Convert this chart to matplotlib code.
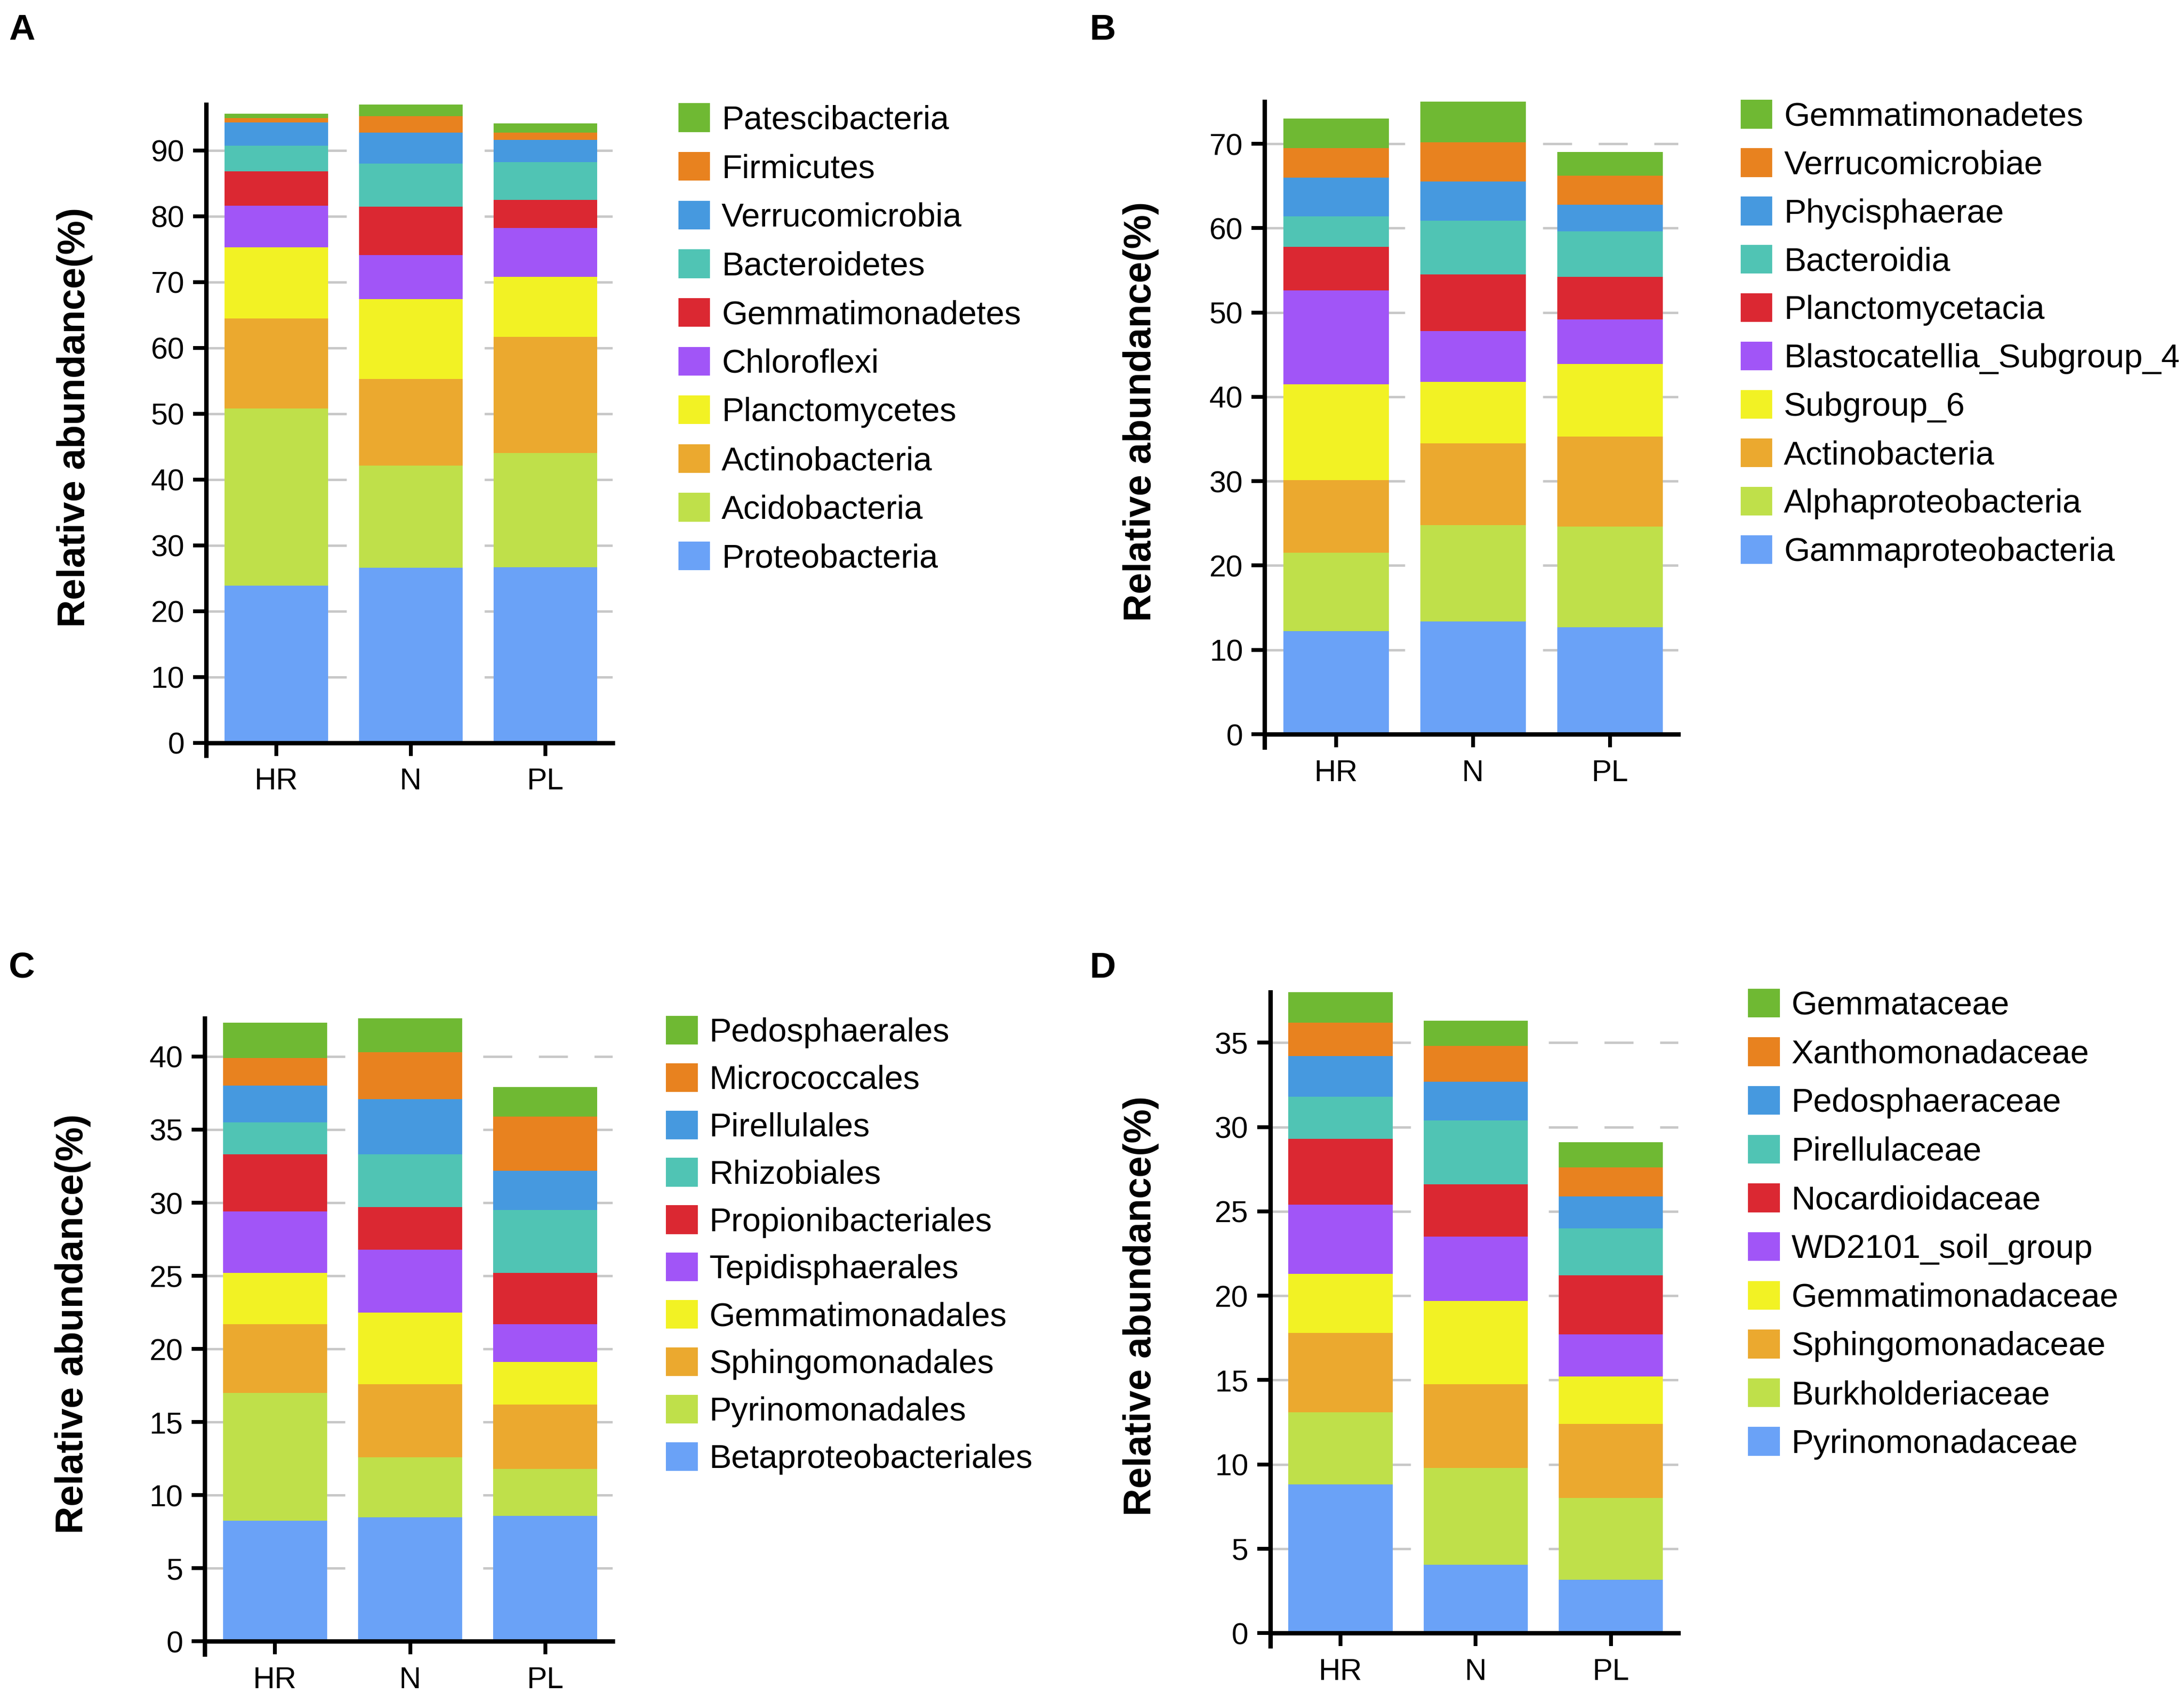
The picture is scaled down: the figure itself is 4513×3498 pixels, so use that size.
import matplotlib
matplotlib.use("Agg")
import matplotlib.pyplot as plt
from matplotlib.patches import Patch
import numpy as np

plt.rcParams['font.family'] = ['Liberation Sans', 'DejaVu Sans']

groups = ['HR', 'N', 'PL']

colors = ['#6AA2F7', '#BFE04A', '#EBA92F', '#F2F224', '#A155F7',
          '#DB2832', '#50C4B4', '#4699DF', '#E8821F', '#6FB933']

# panel A: phylum (bottom -> top)
taxa_a = ['Proteobacteria', 'Acidobacteria', 'Actinobacteria', 'Planctomycetes', 'Chloroflexi',
          'Gemmatimonadetes', 'Bacteroidetes', 'Verrucomicrobia', 'Firmicutes', 'Patescibacteria']
hr_a = [23.9, 26.9, 13.7, 10.8, 6.3, 5.2, 3.9, 3.6, 0.6, 0.7]
n_a = [26.6, 15.5, 13.2, 12.1, 6.7, 7.4, 6.5, 4.7, 2.5, 1.8]
pl_a = [26.7, 17.3, 17.7, 9.1, 7.4, 4.3, 5.7, 3.4, 1.1, 1.4]

# panel B: class
taxa_b = ['Gammaproteobacteria', 'Alphaproteobacteria', 'Actinobacteria', 'Subgroup_6',
          'Blastocatellia_Subgroup_4', 'Planctomycetacia', 'Bacteroidia', 'Phycisphaerae',
          'Verrucomicrobiae', 'Gemmatimonadetes']
hr_b = [12.2, 9.3, 8.6, 11.4, 11.1, 5.2, 3.6, 4.6, 3.5, 3.5]
n_b = [13.4, 11.4, 9.7, 7.3, 6.0, 6.7, 6.4, 4.6, 4.7, 4.8]
pl_b = [12.7, 11.9, 10.7, 8.6, 5.3, 5.0, 5.4, 3.2, 3.4, 2.8]

# panel C: order
taxa_c = ['Betaproteobacteriales', 'Pyrinomonadales', 'Sphingomonadales', 'Gemmatimonadales',
          'Tepidisphaerales', 'Propionibacteriales', 'Rhizobiales', 'Pirellulales',
          'Micrococcales', 'Pedosphaerales']
hr_c = [8.25, 8.75, 4.7, 3.5, 4.2, 3.9, 2.2, 2.5, 1.9, 2.4]
n_c = [8.5, 4.1, 5.0, 4.9, 4.3, 2.9, 3.6, 3.8, 3.2, 2.3]
pl_c = [8.6, 3.2, 4.4, 2.9, 2.6, 3.5, 4.3, 2.7, 3.7, 2.0]

# panel D: family
taxa_d = ['Pyrinomonadaceae', 'Burkholderiaceae', 'Sphingomonadaceae', 'Gemmatimonadaceae',
          'WD2101_soil_group', 'Nocardioidaceae', 'Pirellulaceae', 'Pedosphaeraceae',
          'Xanthomonadaceae', 'Gemmataceae']
hr_d = [8.8, 4.3, 4.7, 3.5, 4.1, 3.9, 2.5, 2.4, 2.0, 1.8]
n_d = [4.05, 5.75, 4.95, 4.95, 3.8, 3.1, 3.8, 2.3, 2.1, 1.5]
pl_d = [3.15, 4.85, 4.4, 2.8, 2.5, 3.5, 2.8, 1.9, 1.7, 1.5]

# letter, taxa, values, ymax, tick step, axes rect, legend anchor, legend spacing, letter pos, ylabel x
panels = [
    ('A', taxa_a, [hr_a, n_a, pl_a], 97, 10, [0.0944, 0.5613, 0.1862, 0.3770], (0.3106, 0.939), 0.485, (0.004, 0.992), -0.279),
    ('B', taxa_b, [hr_b, n_b, pl_b], 75, 10, [0.5791, 0.5663, 0.1894, 0.3737], (0.7970, 0.941), 0.475, (0.499, 0.992), -0.256),
    ('C', taxa_c, [hr_c, n_c, pl_c], 42.6, 5, [0.0938, 0.0305, 0.1868, 0.3679], (0.3050, 0.400), 0.445, (0.004, 0.438), -0.279),
    ('D', taxa_d, [hr_d, n_d, pl_d], 38, 5, [0.5816, 0.0354, 0.1869, 0.3786], (0.8004, 0.416), 0.485, (0.499, 0.438), -0.272),
]

W, H, DPI = 4513, 3498, 300
tick_len = 6.4

fig = plt.figure(figsize=(W / DPI, H / DPI), dpi=DPI)

for letter, taxa, vals, ymax, step, rect, leg_xy, leg_sp, let_xy, ylab_x in panels:
    ax = fig.add_axes(rect)
    data = np.array(vals)  # groups x taxa
    x = np.arange(len(groups))
    bottom = np.zeros(len(groups))
    for i, name in enumerate(taxa):
        ax.bar(x, data[:, i], 0.77, bottom=bottom, color=colors[i], label=name, zorder=2)
        bottom += data[:, i]

    ax.set_xlim(-0.52, 2.5)
    ax.set_ylim(0, ymax)
    ax.set_yticks(np.arange(0, ymax + 0.01, step))
    ax.set_xticks(x)
    ax.set_xticklabels(groups)
    ax.yaxis.grid(True, linestyle=(0, (12, 11)), color='#c8c8c8', lw=1.2, zorder=0)
    ax.set_axisbelow(True)
    for s in ['top', 'right']:
        ax.spines[s].set_visible(False)
    for s in ['left', 'bottom']:
        ax.spines[s].set_linewidth(2.2)
    # left spine runs down past the x axis by one tick length
    ext = ymax * (tick_len * DPI / 72) / (rect[3] * H)
    ax.spines['left'].set_bounds(-ext, ymax)
    ax.tick_params(axis='both', length=tick_len, width=1.9, labelsize=15, color='black')
    ax.tick_params(axis='y', pad=4.4)
    ax.tick_params(axis='x', pad=5.8)
    ax.set_ylabel('Relative abundance(%)', fontsize=19, fontweight='bold')
    ax.yaxis.set_label_coords(ylab_x, 0.51)

    handles = [Patch(facecolor=colors[i], label=taxa[i]) for i in range(len(taxa) - 1, -1, -1)]
    fig.legend(handles=handles, loc='upper left', bbox_to_anchor=leg_xy, frameon=False,
               fontsize=16.5, handlelength=0.95, handleheight=0.95, handletextpad=0.35,
               labelspacing=leg_sp, borderpad=0, borderaxespad=0)

    fig.text(let_xy[0], let_xy[1], letter, fontsize=18, fontweight='bold', va='top', ha='left')

fig.savefig('out.png', dpi=DPI, facecolor='white')
